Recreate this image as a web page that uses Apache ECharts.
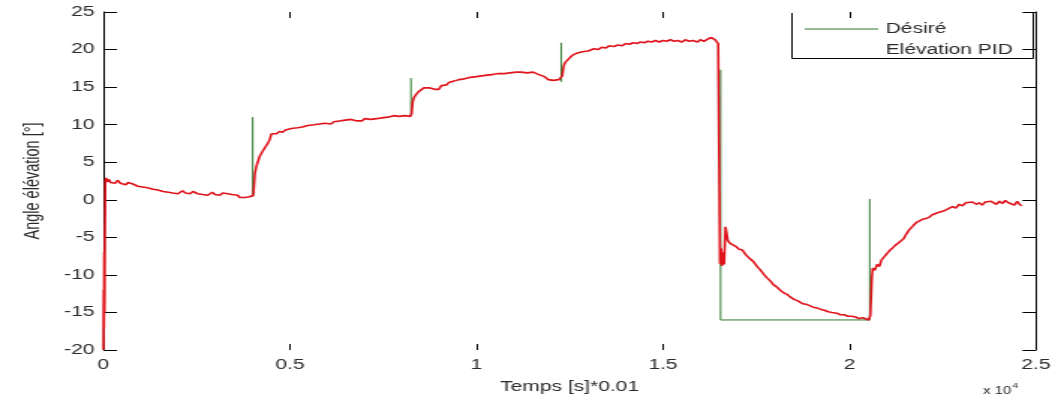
<!DOCTYPE html>
<html>
<head>
<meta charset="utf-8">
<script src="https://cdn.jsdelivr.net/npm/echarts@6/dist/echarts.min.js"></script>
<style>
  html, body { margin: 0; padding: 0; background: #fff; overflow: hidden; }
  #wrap { width: 1055px; height: 399px; overflow: hidden; }
  /* the plot is laid out narrow and stretched sideways to the page width */
  #chart { width: 704px; height: 399px; transform: scaleX(1.49858); transform-origin: 0 0; }
</style>
</head>
<body>
<div id="wrap"><div id="chart"></div></div>
<script>
// x tick labels (time in samples, shown as ×10^4)
const xTickLabels = ['0', '0.5', '1', '1.5', '2', '2.5'];

// setpoint steps of the desired elevation: [time, angle]
const desiredSteps = [
  [4002, 0.4], [4002, 11.0], [4003, '-'],
  [8245, 11.1], [8245, 16.2], [8246, '-'],
  [12273, 15.7], [12273, 20.9], [12274, '-'],
  [16545, 17.3], [16545, -16.0], [20544, -16.0], [20544, 0.1]
];

// measured elevation with the PID controller, start-up and first plateau
const pidStart = [
  [0, -20], [8, -12], [15, -17], [22, -7], [30, -15], [40, -5], [50, 2.6], [70, 2.9], [100, 2.4],
  [150, 2.7], [190, 2.3], [260, 2.5], [320, 2.2], [380, 2.6], [454, 2.2], [520, 2.4], [600, 2.0],
  [660, 2.3], [720, 2.5], [790, 2.1], [850, 2.2], [920, 1.8], [987, 2.0], [1050, 1.7], [1120, 1.9],
  [1180, 1.6], [1254, 1.7], [1330, 1.4], [1400, 1.6], [1460, 1.3], [1521, 1.4], [1600, 1.1],
  [1680, 1.3], [1740, 1.0], [1788, 1.2], [1860, 0.9], [1930, 1.1], [2000, 0.8], [2054, 1.0],
  [2120, 1.2], [2200, 0.9], [2260, 1.0], [2321, 0.8], [2400, 1.1], [2470, 0.9], [2530, 0.8],
  [2588, 1.0], [2660, 0.7], [2730, 0.9], [2800, 0.6], [2855, 0.8], [2920, 1.0], [2990, 0.7],
  [3060, 0.8], [3122, 0.6], [3200, 0.9], [3260, 0.7], [3330, 0.8], [3388, 0.6], [3450, 0.7],
  [3520, 0.5], [3600, 0.6], [3655, 0.3], [3720, 0.4], [3800, 0.3], [3870, 0.5], [3922, 0.4], [3990, 0.4]
];

// second and third plateaus
const pidRise = [
  [4020, 0.6], [4060, 3.5], [4109, 4.6], [4150, 5.2], [4189, 5.8], [4260, 6.4], [4320, 6.6],
  [4376, 7.3], [4440, 7.8], [4509, 8.8], [4560, 9.0], [4640, 8.8], [4720, 9.1], [4803, 9.0],
  [4880, 9.3], [4960, 9.1], [5040, 9.5], [5120, 9.3], [5200, 9.6], [5256, 9.4], [5330, 9.7],
  [5400, 9.6], [5480, 9.9], [5560, 9.7], [5640, 10.0], [5720, 9.8], [5790, 10.1], [5860, 9.9],
  [5940, 10.2], [6020, 10.3], [6100, 10.1], [6180, 10.4], [6250, 10.2], [6323, 10.5], [6400, 10.3],
  [6480, 10.6], [6560, 10.4], [6640, 10.7], [6720, 10.9], [6800, 10.5], [6857, 10.7], [6930, 10.5],
  [7000, 10.8], [7080, 10.6], [7160, 10.7], [7240, 10.5], [7320, 10.8], [7391, 10.7], [7460, 10.9],
  [7540, 10.8], [7620, 11.0], [7700, 10.9], [7780, 11.2], [7860, 11.0], [7924, 11.1], [8000, 10.9],
  [8080, 11.2], [8150, 11.0], [8218, 11.1],
  [8260, 11.4], [8290, 13.0], [8324, 13.6], [8380, 14.0], [8450, 14.4], [8520, 14.6], [8591, 14.9],
  [8660, 15.1], [8730, 14.9], [8805, 15.0], [8880, 14.7], [8950, 14.6], [8991, 14.7], [9060, 15.2],
  [9130, 15.4], [9200, 15.3], [9258, 15.6], [9330, 15.5], [9400, 15.8], [9460, 15.7], [9525, 16.0],
  [9600, 15.9], [9680, 16.1], [9760, 16.0], [9840, 16.3], [9920, 16.2], [10000, 16.4], [10059, 16.3],
  [10140, 16.5], [10220, 16.4], [10300, 16.6], [10380, 16.5], [10460, 16.7], [10530, 16.6],
  [10593, 16.8], [10670, 16.6], [10750, 16.8], [10830, 16.7], [10900, 16.9], [10980, 16.8],
  [11060, 17.0], [11126, 16.9], [11200, 17.0], [11280, 16.8], [11360, 16.9], [11440, 16.8],
  [11520, 17.0], [11600, 16.8], [11660, 16.7], [11740, 16.6], [11820, 16.4], [11880, 16.2],
  [11926, 16.0], [11990, 16.2], [12060, 15.9], [12140, 15.7], [12210, 16.0], [12260, 15.8]
];

// top plateau
const pidTop = [
  [12300, 16.5], [12340, 17.8], [12380, 18.3], [12440, 18.6], [12500, 18.9], [12593, 19.3],
  [12680, 19.5], [12760, 19.4], [12840, 19.7], [12920, 19.6], [12994, 19.8], [13070, 19.9],
  [13150, 20.1], [13260, 20.0], [13360, 20.3], [13460, 20.2], [13560, 20.5], [13680, 20.4],
  [13794, 20.6], [13900, 20.5], [14000, 20.8], [14100, 20.7], [14200, 20.9], [14300, 20.8],
  [14400, 21.0], [14500, 20.9], [14594, 21.1], [14700, 21.0], [14800, 21.2], [14900, 21.0],
  [15000, 21.2], [15100, 21.1], [15200, 21.3], [15300, 21.1], [15395, 21.2], [15500, 21.0],
  [15600, 21.3], [15700, 21.1], [15800, 21.2], [15928, 21.0], [16000, 21.3], [16100, 21.1],
  [16200, 21.4], [16300, 21.6], [16400, 21.3], [16480, 20.8]
];

// drop to the low setpoint and slow decay
const pidDrop = [
  [16530, -8.5], [16560, -6.5], [16580, -8.8], [16610, -7.0], [16640, -8.6], [16676, -3.6],
  [16700, -4.2], [16740, -5.4], [16800, -5.8], [16862, -6.0], [16950, -6.2], [17040, -6.6],
  [17129, -6.7], [17220, -7.3], [17320, -7.8], [17420, -8.2], [17529, -8.9], [17620, -9.4],
  [17700, -9.9], [17790, -10.4], [17876, -10.8], [17960, -11.3], [18050, -11.6], [18140, -12.0],
  [18240, -12.4], [18330, -12.6], [18430, -13.0], [18530, -13.3], [18630, -13.5], [18730, -13.8],
  [18830, -13.9], [18930, -14.1], [19030, -14.3], [19130, -14.4], [19230, -14.6], [19330, -14.7],
  [19430, -14.9], [19530, -15.0], [19664, -15.1], [19760, -15.3], [19860, -15.3], [19960, -15.5],
  [20064, -15.5], [20160, -15.6], [20260, -15.8], [20360, -15.7], [20440, -15.9], [20518, -16.0]
];

// recovery toward zero
const pidRecover = [
  [20560, -15.4], [20580, -13.0], [20600, -10.5], [20624, -9.1], [20680, -9.4], [20740, -8.6],
  [20800, -8.9], [20860, -8.0], [20930, -7.6], [20998, -7.2], [21070, -6.8], [21140, -6.5],
  [21220, -6.1], [21300, -5.8], [21380, -5.6], [21452, -5.2], [21520, -4.6], [21600, -4.0],
  [21660, -3.8], [21718, -3.4], [21800, -3.0], [21880, -2.9], [21960, -2.6], [22050, -2.5],
  [22145, -2.3], [22220, -2.0], [22300, -2.1], [22380, -1.7], [22450, -1.8], [22519, -1.5],
  [22600, -1.3], [22680, -1.4], [22760, -0.9], [22850, -1.1], [22946, -0.6], [23030, -0.8],
  [23120, -0.4], [23200, -0.6], [23300, -0.3], [23399, -0.6], [23480, -0.4], [23560, -0.7],
  [23640, -0.3], [23720, -0.5], [23800, -0.2], [23853, -0.4], [23940, -0.6], [24020, -0.2],
  [24100, -0.5], [24180, -0.1], [24260, -0.4], [24340, -0.3], [24420, -0.7], [24500, -0.2],
  [24560, -0.6], [24620, -0.8]
];

const pidElevation = [].concat(pidStart, pidRise, pidTop, pidDrop, pidRecover);

const FONT = "'Liberation Sans', Arial, sans-serif";
const INK = '#2a2a2a';
const GREEN = '#2f7a30';
const RED = '#e0141c';

const chart = echarts.init(document.getElementById('chart'), null, { renderer: 'canvas' });

chart.setOption({
  animation: false,
  backgroundColor: '#ffffff',
  textStyle: { fontFamily: FONT },
  grid: { left: 69, right: 10, top: 12, bottom: 47, containLabel: false },
  legend: {
    show: true,
    orient: 'vertical',
    left: 537,
    top: 22,
    padding: 0,
    icon: 'rect',
    itemWidth: 49,
    itemHeight: 1,
    itemGap: 7,
    textStyle: { fontFamily: FONT, fontSize: 14, color: INK },
    data: [
      { name: 'Désiré', itemStyle: { color: GREEN } },
      { name: 'Elévation PID', itemStyle: { color: 'rgba(255,255,255,0)' } }
    ]
  },
  xAxis: [
    {
      type: 'value', min: 0, max: 25000, interval: 5000, position: 'bottom',
      name: 'Temps [s]*0.01', nameLocation: 'middle', nameGap: 30,
      nameTextStyle: { fontFamily: FONT, fontSize: 14, color: INK },
      axisLine: { show: false, onZero: false },
      axisTick: { show: true, inside: true, length: 6, lineStyle: { color: '#000', width: 1 } },
      axisLabel: { fontFamily: FONT, fontSize: 14, color: INK, margin: 8,
        formatter: v => xTickLabels[Math.round(v / 5000)] },
      splitLine: { show: false }
    },
    {
      type: 'value', min: 0, max: 25000, interval: 5000, position: 'top',
      axisLine: { show: false, onZero: false },
      axisTick: { show: true, inside: true, length: 6, lineStyle: { color: '#000', width: 1 } },
      axisLabel: { show: false },
      splitLine: { show: false }
    }
  ],
  yAxis: [
    {
      type: 'value', min: -20, max: 25, interval: 5, position: 'left',
      name: 'Angle élévation [°]', nameLocation: 'middle', nameGap: 40, nameRotate: 90,
      nameTextStyle: { fontFamily: FONT, fontSize: 14.5, color: INK },
      axisLine: { show: true, onZero: false, lineStyle: { color: '#000', width: 1 } },
      axisTick: { show: true, inside: true, length: 9, lineStyle: { color: '#000', width: 1 } },
      axisLabel: { fontFamily: FONT, fontSize: 14, color: INK, margin: 6 },
      splitLine: { show: false }
    },
    {
      type: 'value', min: -20, max: 25, interval: 5, position: 'right',
      axisLine: { show: true, onZero: false, lineStyle: { color: '#000', width: 1 } },
      axisTick: { show: true, inside: true, length: 9, lineStyle: { color: '#000', width: 1 } },
      axisLabel: { show: false },
      splitLine: { show: false }
    }
  ],
  series: [
    {
      name: 'Désiré', type: 'line', data: desiredSteps,
      xAxisIndex: 0, yAxisIndex: 0, showSymbol: false, connectNulls: false,
      lineStyle: { color: GREEN, width: 1 }, itemStyle: { color: GREEN }, z: 2
    },
    {
      name: 'Elévation PID', type: 'line', data: pidElevation,
      xAxisIndex: 0, yAxisIndex: 0, showSymbol: false,
      lineStyle: { color: RED, width: 1.6 }, itemStyle: { color: RED }, z: 3
    }
  ],
  graphic: [
    {
      // legend frame: left, bottom and right edges
      type: 'polyline', silent: true,
      shape: { points: [[528.5, 13], [528.5, 58.5], [689.5, 58.5], [689.5, 13]] },
      style: { stroke: '#000', lineWidth: 1, fill: null }
    },
    {
      type: 'text', left: 656, top: 386, silent: true,
      style: { text: 'x 10', font: "10px 'Liberation Sans', Arial, sans-serif", fill: INK }
    },
    {
      type: 'text', left: 675.5, top: 383, silent: true,
      style: { text: '4', font: "7px 'Liberation Sans', Arial, sans-serif", fill: INK }
    }
  ]
});
</script>
</body>
</html>
